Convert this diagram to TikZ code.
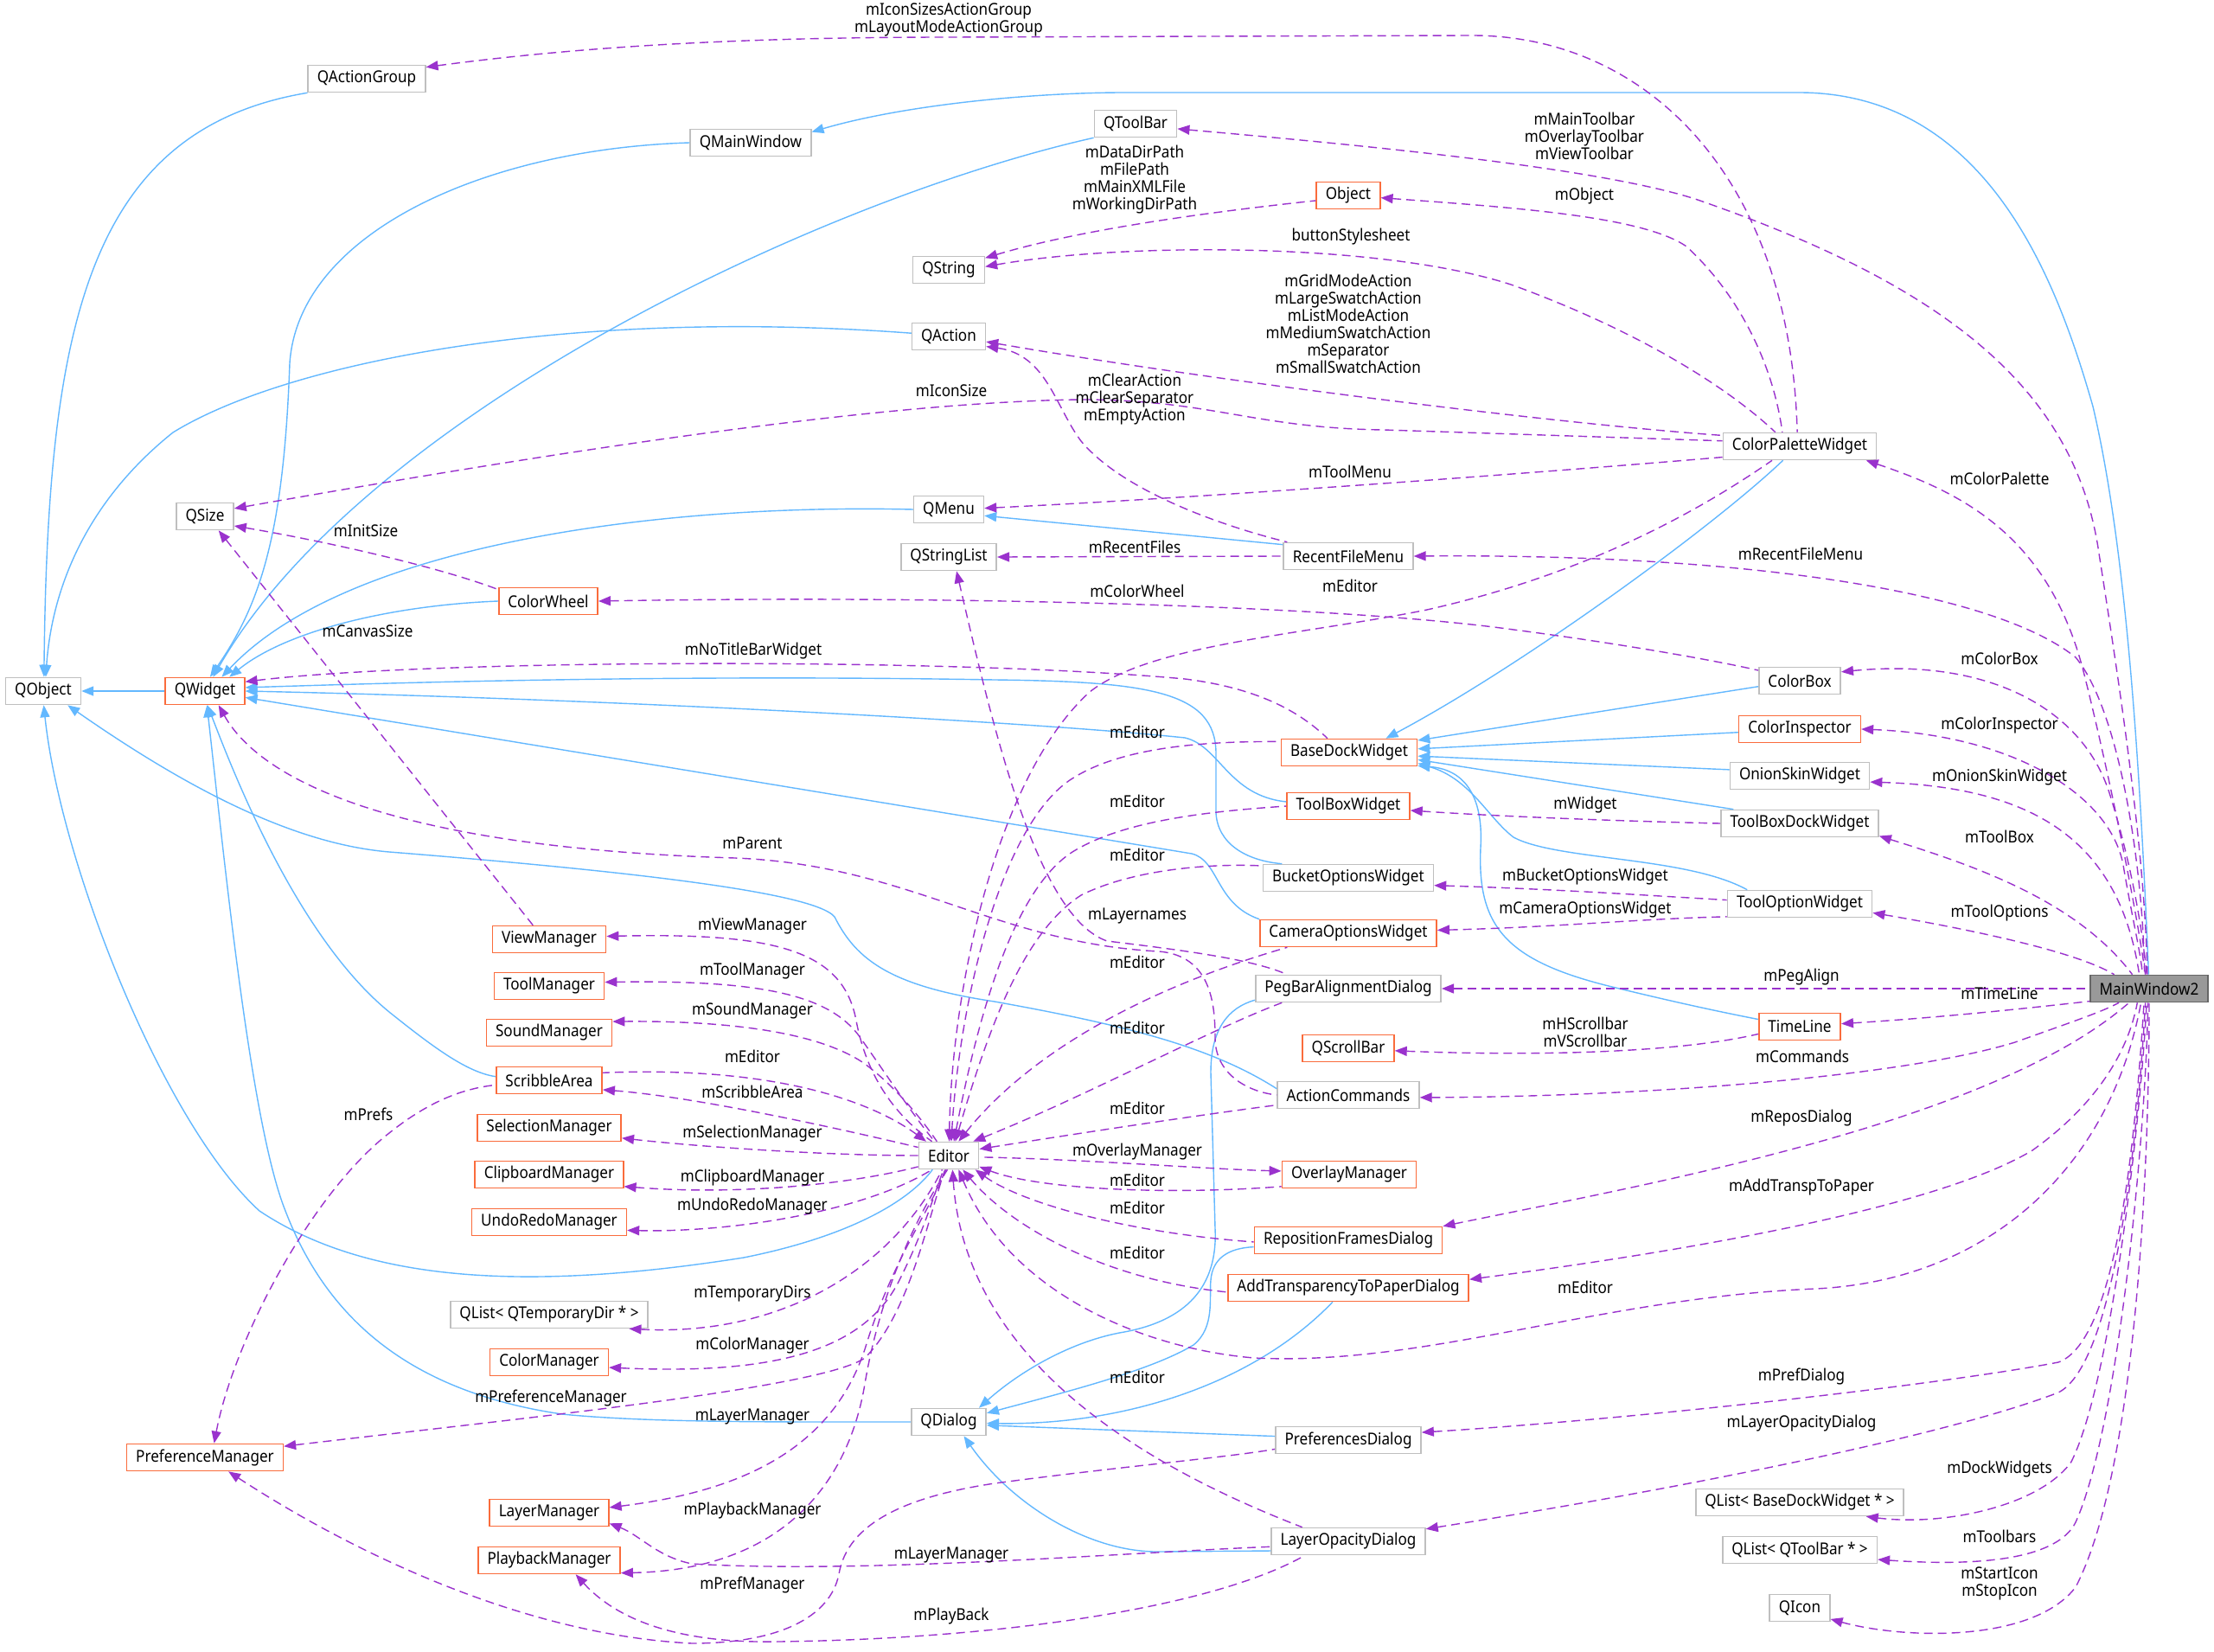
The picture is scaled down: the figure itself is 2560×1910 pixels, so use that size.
\documentclass[tikz,border=0pt]{standalone}
\usepackage{fontspec}
\setmainfont{Noto Sans}[FakeStretch=0.9]
\usetikzlibrary{arrows.meta}
\definecolor{myblue}{RGB}{99,184,255}
\definecolor{mypurple}{RGB}{154,50,205}
\definecolor{myorange}{RGB}{250,108,60}
\definecolor{mygray}{RGB}{191,191,191}
\definecolor{mainfill}{RGB}{153,153,153}

\begin{document}
\begin{tikzpicture}[x=0.5pt,y=-0.5pt,>={Triangle[length=7pt,width=5.5pt]},
    font=\fontsize{9.5}{10}\selectfont,
    box/.style={draw=mygray,line width=0.8pt,fill=white,inner xsep=5.3pt,inner ysep=1pt,minimum height=15.5pt},
    obox/.style={box,draw=myorange},
    mainbox/.style={box,draw=black!60,fill=mainfill},
    lbl/.style={align=center,inner sep=0pt},
    inh/.style={myblue,line width=0.7pt,<-},
    use/.style={mypurple,line width=0.7pt,dash pattern=on 5pt off 3pt,<-}]

    % Tlo i rozmiar
    \fill[white] (0,0) rectangle (2560,1910);
    \useasboundingbox (0,0) rectangle (2560,1910);

    % Klasy
    \node[box] (qag) at (424,91) {QActionGroup};
    \node[box] (qmw) at (868,165) {QMainWindow};
    \node[box] (qtb) at (1313,143) {QToolBar};
    \node[obox] (obj) at (1559,226) {Object};
    \node[box] (qstr) at (1097,312) {QString};
    \node[box] (qact) at (1097,389) {QAction};
    \node[box] (cpw) at (2081,516) {ColorPaletteWidget};
    \node[box] (qsize) at (237,597) {QSize};
    \node[box] (qmenu) at (1097,589) {QMenu};
    \node[box] (qsl) at (1097,644) {QStringList};
    \node[box] (rfm) at (1559,643) {RecentFileMenu};
    \node[obox] (cwh) at (634,695) {ColorWheel};
    \node[box] (qobj) at (50,799) {QObject};
    \node[obox] (qw) at (237,799) {QWidget};
    \node[box] (cbox) at (2081,787) {ColorBox};
    \node[obox] (cins) at (2081,843) {ColorInspector};
    \node[obox] (bdw) at (1560,870) {BaseDockWidget};
    \node[box] (osw) at (2081,897) {OnionSkinWidget};
    \node[obox] (tbw) at (1559,932) {ToolBoxWidget};
    \node[box] (tbdw) at (2081,952) {ToolBoxDockWidget};
    \node[box] (bow) at (1559,1015) {BucketOptionsWidget};
    \node[box] (tow) at (2081,1045) {ToolOptionWidget};
    \node[obox] (cow) at (1559,1079) {CameraOptionsWidget};
    \node[box] (pbad) at (1559,1143) {PegBarAlignmentDialog};
    \node[mainbox] (mw) at (2485,1143) {MainWindow2};
    \node[obox] (tl) at (2081,1187) {TimeLine};
    \node[obox] (qsb) at (1559,1212) {QScrollBar};
    \node[box] (ac) at (1559,1266) {ActionCommands};
    \node[box] (ed) at (1097,1336) {Editor};
    \node[obox] (om) at (1560,1358) {OverlayManager};
    \node[obox] (rfd) at (1559,1434) {RepositionFramesDialog};
    \node[obox] (atpd) at (1559,1489) {AddTransparencyToPaperDialog};
    \node[box] (qdlg) at (1097,1644) {QDialog};
    \node[box] (pd) at (1559,1665) {PreferencesDialog};
    \node[obox] (pm) at (237,1685) {PreferenceManager};
    \node[box] (lod) at (1559,1782) {LayerOpacityDialog};
    \node[box] (qlbdw) at (2081,1737) {QList< BaseDockWidget * >};
    \node[box] (qltb) at (2081,1792) {QList< QToolBar * >};
    \node[box] (qicon) at (2081,1859) {QIcon};
    \node[box] (qltd) at (635,1520) {QList< QTemporaryDir * >};

    % Menedzery edytora
    \foreach \nm/\txt/\yy in {vm/ViewManager/1086, tm/ToolManager/1140,
        sm/SoundManager/1194, sa/ScribbleArea/1249, selm/SelectionManager/1304,
        cbm/ClipboardManager/1358, urm/UndoRedoManager/1413, colm/ColorManager/1575,
        lm/LayerManager/1749, pbm/PlaybackManager/1804}
    {
      \node[obox] (\nm) at (635,\yy) {\txt};
    }

    % Dziedziczenie
    \draw[inh] (qobj.87) .. controls (55,380) and (100,150) .. (qag.south west);
    \draw[inh] (qobj.80) .. controls (60,680) and (100,580) .. (200,500)
        .. controls (330,420) and (650,355) .. (qact.175);
    \draw[inh] (qw.70) .. controls (300,700) and (328,620) .. (335,420)
        .. controls (345,270) and (560,172) .. (qmw.west);
    \draw[inh] (qw.60) .. controls (420,480) and (950,230) .. (qtb.south west);
    \draw[inh] (qw.40) .. controls (400,630) and (760,582) .. (qmenu.west);
    \draw[inh] (qw.30) .. controls (330,730) and (450,700) .. (cwh.west);
    \draw[inh] (qobj.east) -- (qw.west);
    \draw[inh] (qmenu.-10) -- (rfm.170);
    \draw[inh] (bdw.21) .. controls (1760,770) and (1980,610) .. (cpw.-140);
    \draw[inh] (qw.5) .. controls (500,788) and (800,780) .. (1150,786)
        .. controls (1330,788) and (1405,800) .. (1406,870) -- (1406,940)
        .. controls (1408,975) and (1440,995) .. (bow.168);
    \draw[inh] (qw.0) .. controls (700,808) and (1200,835) .. (1370,853)
        .. controls (1410,862) and (1420,920) .. (tbw.176);
    \draw[inh] (qw.-9) -- (1378,987) .. controls (1410,995) and (1405,1045) .. (cow.north west);
    \draw[inh] (bdw.10) -- (cbox.-172);
    \draw[inh] (bdw.3) -- (cins.183);
    \draw[inh] (bdw.-3) -- (osw.175);
    \draw[inh] (bdw.-6) -- (tbdw.168);
    \draw[inh] (bdw.-9) .. controls (1700,900) and (1720,945) .. (1750,968)
        .. controls (1800,995) and (1950,990) .. (tow.165);
    \draw[inh] (bdw.-11) .. controls (1700,890) and (1715,930) .. (1712,980)
        .. controls (1708,1070) and (1740,1110) .. (1860,1140)
        .. controls (1950,1162) and (2000,1172) .. (tl.170);
    \draw[inh] (qw.-80) .. controls (265,880) and (340,1080) .. (450,1170)
        .. controls (500,1210) and (540,1240) .. (sa.176);
    \draw[inh] (qobj.-88) .. controls (70,1000) and (190,1300) .. (300,1400)
        .. controls (420,1480) and (600,1495) .. (860,1454)
        .. controls (980,1430) and (1050,1390) .. (ed.-139);
    \draw[inh] (qw.-82) .. controls (260,1000) and (290,1300) .. (330,1400)
        .. controls (380,1530) and (480,1610) .. (650,1635)
        .. controls (750,1645) and (900,1644) .. (qdlg.west);
    \draw[inh] (qobj.-30) .. controls (200,900) and (330,975) .. (450,985)
        .. controls (700,1005) and (940,1030) .. (965,1060)
        .. controls (990,1110) and (1030,1140) .. (1150,1158)
        .. controls (1300,1185) and (1400,1210) .. (ac.175);
    \draw[inh] (qdlg.25) .. controls (1180,1585) and (1240,1550) .. (1300,1540)
        .. controls (1380,1525) and (1408,1480) .. (1405,1420) -- (1400,1240)
        .. controls (1400,1190) and (1420,1165) .. (pbad.-173);
    \draw[inh] (qdlg.13) .. controls (1230,1610) and (1330,1585) .. (1380,1555)
        .. controls (1405,1535) and (1398,1500) .. (1400,1480)
        .. controls (1402,1455) and (1420,1443) .. (rfd.-176);
    \draw[inh] (qdlg.-2) .. controls (1300,1648) and (1450,1600) .. (atpd.-138);
    \draw[inh] (qdlg.-5) -- (pd.177);
    \draw[inh] (qdlg.-43) .. controls (1170,1740) and (1260,1795) .. (1340,1794) -- (lod.-173);
    \draw[inh] (qmw.10) .. controls (1050,120) and (1200,107) .. (1300,107) -- (2080,107)
        .. controls (2300,107) and (2380,330) .. (2420,470)
        .. controls (2460,640) and (2475,900) .. (mw.92);

    % Powiazania: ColorPaletteWidget, Object, RecentFileMenu
    \draw[use] (qag.11) .. controls (700,50) and (900,43) .. (1100,43) -- (1700,41)
        .. controls (1900,40) and (2070,200) .. (cpw.100);
    \draw[use] (obj.-4) .. controls (1750,240) and (1900,250) .. (1950,285)
        .. controls (2010,340) and (2050,420) .. (cpw.141);
    \draw[use] (qstr.18) .. controls (1250,265) and (1400,245) .. (obj.-171);
    \draw[use] (qstr.5) .. controls (1300,280) and (1600,280) .. (1750,330)
        .. controls (1900,385) and (2000,450) .. (cpw.150);
    \draw[use] (qact.-8) .. controls (1400,440) and (1800,490) .. (cpw.172);
    \draw[use] (qact.-15) .. controls (1210,410) and (1220,470) .. (1250,510)
        .. controls (1300,570) and (1420,610) .. (rfm.167);
    \draw[use] (qsize.15) .. controls (600,530) and (1000,465) .. (1250,462)
        .. controls (1400,462) and (1450,495) .. (1600,497) -- (cpw.176);
    \draw[use] (qmenu.2) .. controls (1400,575) and (1800,545) .. (cpw.-172);
    \draw[use] (qsl.east) -- (rfm.west);
    \draw[use] (ed.88) .. controls (1100,1150) and (1150,900) .. (1260,800)
        .. controls (1330,745) and (1500,735) .. (1650,705)
        .. controls (1850,660) and (1980,580) .. (cpw.-153);
    \draw[use] (cwh.east) .. controls (1100,688) and (1550,700) .. (1750,728)
        .. controls (1880,745) and (1990,765) .. (cbox.166);
    \draw[use] (qsize.-18) .. controls (400,630) and (520,660) .. (cwh.167);
    \draw[use] (qsize.-46) -- (vm.139);
    \draw[use] (qw.13) .. controls (500,762) and (1100,760) .. (1370,785)
        .. controls (1450,795) and (1500,820) .. (bdw.147);
    \draw[use] (qw.-46) .. controls (300,900) and (450,980) .. (850,992)
        .. controls (1050,1000) and (1150,1090) .. (1340,1100)
        .. controls (1400,1105) and (1405,1160) .. (1405,1200)
        .. controls (1405,1240) and (1440,1262) .. (ac.180);
    \draw[use] (qsl.-61) .. controls (1150,850) and (1200,1060) .. (1280,1088)
        .. controls (1380,1100) and (1450,1110) .. (pbad.167);

    % Powiazania do Editor
    \draw[use] (ed.80) .. controls (1110,1150) and (1160,950) .. (1240,900)
        .. controls (1300,862) and (1400,857) .. (bdw.171);
    \draw[use] (ed.70) .. controls (1130,1180) and (1170,1030) .. (1240,985)
        .. controls (1300,948) and (1400,938) .. (tbw.180);
    \draw[use] (ed.65) .. controls (1140,1200) and (1180,1080) .. (1250,1035)
        .. controls (1310,1005) and (1400,998) .. (bow.172);
    \draw[use] (ed.55) .. controls (1180,1230) and (1300,1150) .. (cow.-167);
    \draw[use] (ed.30) .. controls (1250,1270) and (1400,1190) .. (pbad.-168);
    \draw[use] (ed.12) .. controls (1250,1310) and (1380,1290) .. (ac.-172);
    \draw[use] (ed.148) .. controls (1010,1275) and (900,1232) .. (sa.8);
    \draw[use] (ed.-20) .. controls (1200,1375) and (1350,1382) .. (om.-170);
    \draw[use] (ed.-28) .. controls (1180,1390) and (1300,1425) .. (rfd.-179);
    \draw[use] (ed.-45) .. controls (1170,1420) and (1280,1480) .. (atpd.-178);
    \draw[use] (ed.-75) .. controls (1110,1480) and (1180,1640) .. (lod.163);

    % Powiazania z Editor do menedzerow
    \draw[use] (vm.3) .. controls (900,1078) and (975,1100) .. (990,1180)
        .. controls (1005,1260) and (1050,1300) .. (ed.140);
    \draw[use] (tm.4) .. controls (880,1133) and (960,1150) .. (995,1200)
        .. controls (1030,1250) and (1060,1295) .. (ed.135);
    \draw[use] (sm.10) .. controls (850,1180) and (950,1195) .. (1000,1230)
        .. controls (1040,1260) and (1070,1300) .. (ed.130);
    \draw[use] (sa.-10) .. controls (800,1268) and (950,1300) .. (ed.165);
    \draw[use] (selm.-8) .. controls (800,1325) and (950,1336) .. (ed.180);
    \draw[use] (cbm.-9) .. controls (850,1382) and (980,1370) .. (ed.-160);
    \draw[use] (urm.-6) .. controls (850,1425) and (1000,1400) .. (ed.-140);
    \draw[use] (qltd.-10) .. controls (900,1545) and (1030,1470) .. (ed.-115);
    \draw[use] (colm.-5) .. controls (900,1590) and (1000,1560) .. (1040,1480)
        .. controls (1070,1420) and (1080,1380) .. (ed.-110);
    \draw[use] (pm.8) .. controls (600,1640) and (950,1605) .. (1000,1570)
        .. controls (1050,1520) and (1070,1420) .. (ed.-105);
    \draw[use] (lm.5) .. controls (850,1725) and (960,1680) .. (1000,1560)
        .. controls (1030,1460) and (1080,1390) .. (ed.-100);
    \draw[use] (pbm.-10) .. controls (900,1815) and (980,1720) .. (1000,1600)
        .. controls (1020,1480) and (1070,1390) .. (ed.-95);
    \draw[use] (om.177) .. controls (1400,1352) and (1250,1340) .. (ed.-3);

    % Pozostale powiazania
    \draw[use] (pbm.-28) .. controls (720,1880) and (800,1900) .. (900,1898)
        .. controls (1150,1895) and (1400,1860) .. (lod.-162);
    \draw[use] (lm.-10) .. controls (740,1775) and (760,1800) .. (800,1808)
        .. controls (1000,1820) and (1300,1795) .. (lod.-176);
    \draw[use] (pm.-31) .. controls (400,1790) and (600,1890) .. (800,1900)
        .. controls (900,1900) and (960,1870) .. (970,1820)
        .. controls (980,1760) and (1050,1730) .. (1150,1715)
        .. controls (1300,1695) and (1420,1685) .. (pd.-173);
    \draw[use] (pm.57) .. controls (270,1550) and (360,1380) .. (450,1310)
        .. controls (500,1270) and (540,1258) .. (sa.-175);
    \draw[use] (qsb.-3) .. controls (1800,1222) and (1950,1215) .. (tl.-170);
    \draw[use] (tbw.-4) .. controls (1750,945) and (1900,950) .. (tbdw.west);
    \draw[use] (bow.-5) .. controls (1800,1028) and (1900,1035) .. (tow.177);
    \draw[use] (cow.2) .. controls (1800,1072) and (1900,1062) .. (tow.-170);

    % Powiazania z MainWindow2
    \draw[use] (qtb.-7) .. controls (1600,170) and (1850,195) .. (1960,230)
        .. controls (2250,330) and (2400,450) .. (2427,640)
        .. controls (2460,850) and (2480,1000) .. (mw.97);
    \draw[use] (rfm.east) .. controls (2000,640) and (2300,680) .. (2400,760)
        .. controls (2450,820) and (2478,1000) .. (mw.108);
    \draw[use] (cpw.-12) .. controls (2270,570) and (2370,620) .. (2410,780)
        .. controls (2440,900) and (2470,1050) .. (mw.105);
    \draw[use] (cbox.12) .. controls (2300,760) and (2410,820) .. (2440,920)
        .. controls (2465,1000) and (2478,1080) .. (mw.100);
    \draw[use] (cins.0) .. controls (2330,850) and (2440,920) .. (2455,1000)
        .. controls (2465,1060) and (2475,1100) .. (mw.115);
    \draw[use] (osw.-5) .. controls (2350,910) and (2450,970) .. (mw.125);
    \draw[use] (tbdw.-9) .. controls (2280,1000) and (2400,1040) .. (mw.140);
    \draw[use] (tow.-7) .. controls (2280,1075) and (2400,1100) .. (mw.158);
    \draw[use] (pbad.east) -- (mw.west);
    \draw[use] (tl.4) .. controls (2250,1176) and (2350,1165) .. (mw.-168);
    \draw[use] (ac.-2) .. controls (1900,1268) and (2200,1245) .. (2330,1205)
        .. controls (2400,1180) and (2430,1170) .. (mw.-155);
    \draw[use] (rfd.north east) .. controls (1900,1370) and (2300,1300) .. (mw.-145);
    \draw[use] (atpd.4) .. controls (2000,1440) and (2250,1390) .. (2350,1330)
        .. controls (2420,1280) and (2460,1220) .. (mw.-130);
    \draw[use] (ed.-55) .. controls (1170,1500) and (1330,1560) .. (1450,1570)
        .. controls (1650,1580) and (1850,1500) .. (2100,1490)
        .. controls (2300,1480) and (2440,1350) .. (mw.-120);
    \draw[use] (pd.6) .. controls (1900,1640) and (2250,1600) .. (2380,1575)
        .. controls (2450,1550) and (2470,1300) .. (mw.-110);
    \draw[use] (lod.9) .. controls (1950,1720) and (2250,1660) .. (2380,1610)
        .. controls (2440,1580) and (2470,1350) .. (mw.-105);
    \draw[use] (qlbdw.-12) .. controls (2250,1765) and (2360,1740) .. (2395,1690)
        .. controls (2440,1600) and (2475,1300) .. (mw.-100);
    \draw[use] (qltb.-7) .. controls (2300,1812) and (2380,1800) .. (2400,1760)
        .. controls (2450,1650) and (2482,1300) .. (mw.-95);
    \draw[use] (qicon.-20) .. controls (2200,1895) and (2350,1900) .. (2400,1835)
        .. controls (2470,1700) and (2485,1350) .. (mw.-90);

    % Etykiety wieloliniowe
    \node[lbl] (lgrp) at (1097,23) {mIconSizesActionGroup\\mLayoutModeActionGroup};
    \node[lbl] (lpath) at (1312,208) {mDataDirPath\\mFilePath\\mMainXMLFile\\mWorkingDirPath};
    \node[lbl] (lswatch) at (1559,374) {mGridModeAction\\mLargeSwatchAction\\mListModeAction\\mMediumSwatchAction\\mSeparator\\mSmallSwatchAction};
    \node[lbl] (lclear) at (1312,462) {mClearAction\\mClearSeparator\\mEmptyAction};
    \node[lbl] (lbars) at (1832,157) {mMainToolbar\\mOverlayToolbar\\mViewToolbar};
    \node[lbl] (lscroll) at (1833,1193) {mHScrollbar\\mVScrollbar};
    \node[lbl] (licon) at (2312,1831) {mStartIcon\\mStopIcon};

    % Etykiety jednoliniowe
    \foreach \txt/\xx/\yy [count=\i] in {mIconSize/1100/452, mInitSize/423/614,
        mCanvasSize/425/730, mNoTitleBarWidget/871/753, mParent/870/975,
        mViewManager/870/1071, mToolManager/870/1123, mSoundManager/870/1169,
        mEditor/870/1221, mScribbleArea/870/1262, mSelectionManager/870/1311,
        mClipboardManager/870/1362, mUndoRedoManager/870/1395, mTemporaryDirs/870/1496,
        mColorManager/870/1556, mPreferenceManager/637/1616, mLayerManager/870/1638,
        mPlaybackManager/870/1747, mPrefManager/870/1832, mPrefs/426/1288,
        buttonStylesheet/1562/274, mToolMenu/1561/545, mRecentFiles/1312/632,
        mEditor/1561/677, mColorWheel/1315/683, mEditor/1315/846, mEditor/1315/926,
        mEditor/1315/988, mLayernames/1315/1059, mEditor/1315/1112, mEditor/1315/1188,
        mEditor/1315/1281, mOverlayManager/1315/1332, mEditor/1315/1364,
        mEditor/1315/1396, mEditor/1315/1448, mEditor/1315/1592,
        mLayerManager/1100/1798, mPlayBack/1100/1869, mObject/1832/227,
        mWidget/1833/931, mBucketOptionsWidget/1833/1014, mCameraOptionsWidget/1833/1052,
        mEditor/1833/1488, mRecentFileMenu/2082/640, mPegAlign/2083/1130,
        mCommands/2084/1221, mReposDialog/2083/1293, mAddTranspToPaper/2083/1373,
        mPrefDialog/2083/1591, mLayerOpacityDialog/2083/1646, mColorPalette/2312/553,
        mColorBox/2312/761, mColorInspector/2312/839, mOnionSkinWidget/2312/899,
        mToolBox/2312/967, mToolOptions/2312/1056, mTimeLine/2312/1149,
        mDockWidgets/2312/1699, mToolbars/2312/1776}
    {
      \node[lbl] (lab\i) at (\xx,\yy) {\txt};
    }

\end{tikzpicture}
\end{document}
